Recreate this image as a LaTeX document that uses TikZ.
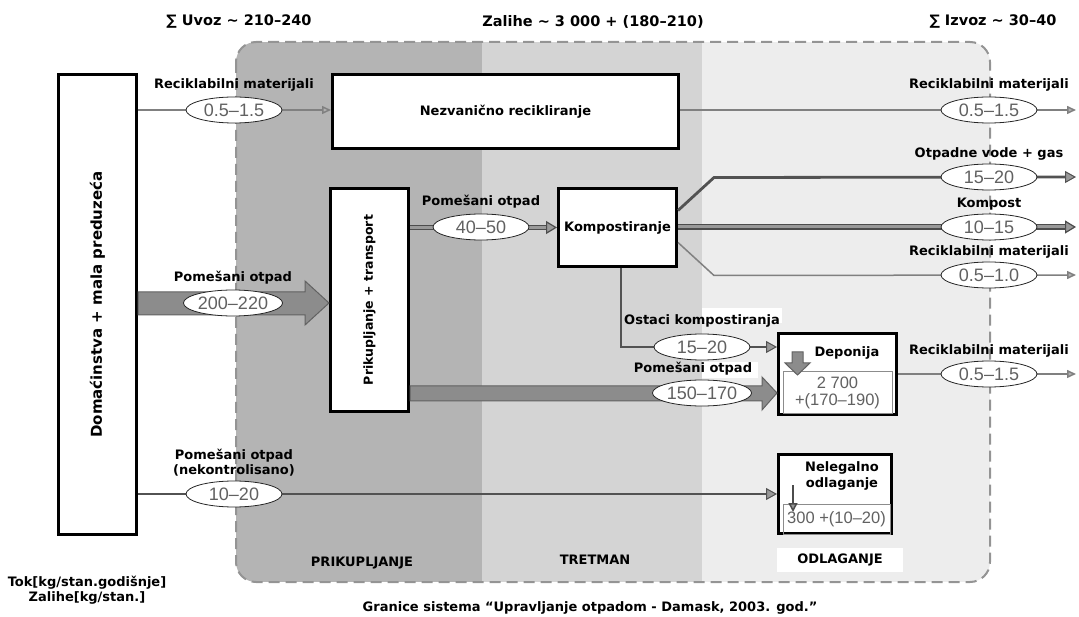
\documentclass[tikz,border=0pt]{standalone}
\usepackage{fontspec}
\setmainfont{DejaVu Sans}
\newfontfamily\numfont{Liberation Sans}
\usetikzlibrary{shapes.geometric}
\usetikzlibrary{arrows.meta}
\usetikzlibrary{positioning}

\definecolor{prikup}{HTML}{B4B4B4}
\definecolor{tretm}{HTML}{D4D4D4}
\definecolor{odlag}{HTML}{EDEDED}

\tikzset{
  proc/.style={draw, line width=3pt, fill=white, inner sep=0pt},
  lbl/.style={font=\bfseries\fontsize{13}{15.5}\selectfont, inner sep=1pt, align=center},
  val/.style={ellipse, draw=black!85, line width=0.8pt, fill=white, minimum width=96pt,
    minimum height=26pt, inner sep=0pt, text=black!62, font=\numfont\fontsize{18}{18}\selectfont},
  stock/.style={draw=black!45, line width=1pt, inner sep=0pt, align=center,
    text=black!62, font=\numfont\fontsize{16.5}{17}\selectfont},
  recflow/.style={draw=black!50, line width=1.5pt, -{Triangle[length=9pt, width=8pt, fill=black!30]}},
  wasteflow/.style={draw=black!68, line width=2.8pt, -{Triangle[length=11pt, width=12pt, line width=1pt, fill=black!40]}},
  dblflow/.style={draw=black!70, line width=1.2pt, double=black!40, double distance=3pt,
    -{Triangle[length=11pt, width=13pt, fill=black!40]}},
  bigflow/.style={fill=black!45, draw=black!62, line width=1pt, line join=miter},
}

\begin{document}
\begin{tikzpicture}[x=1pt, y=-1pt]
  \useasboundingbox (0,0) rectangle (1079,617);

  % zones of the system
  \begin{scope}
    \clip[rounded corners=20pt] (236,42) rectangle (990,582);
    \fill[prikup] (236,42) rectangle (482,582);
    \fill[tretm]  (482,42) rectangle (702,582);
    \fill[odlag]  (702,42) rectangle (990,582);
  \end{scope}
  \fill[white] (702,308) rectangle (782,323);
  \fill[white] (702,362) rectangle (758,378);
  \draw[black!42, line width=2pt, dash pattern=on 11pt off 6pt, rounded corners=20pt]
    (236,42) rectangle (990,582);

  \node[lbl] (uvoz)  at (239,22) {\fontsize{14.5}{16}\selectfont ∑ Uvoz \textasciitilde{} 210–240};
  \node[lbl] (zal)   at (593,22) {\fontsize{14.5}{16}\selectfont Zalihe \textasciitilde{} 3 000 + (180–210)};
  \node[lbl] (izvoz) at (993,22) {\fontsize{14.5}{16}\selectfont ∑ Izvoz \textasciitilde{} 30–40};

  % processes
  \node[proc, minimum width=78pt, minimum height=460pt]  (dom) at (97.5,304.5) {};
  \node[proc, minimum width=346pt, minimum height=74pt]  (nez) at (505.5,111.5) {};
  \node[proc, minimum width=78pt, minimum height=223pt]  (pri) at (369.5,300) {};
  \node[proc, minimum width=118pt, minimum height=78pt]  (kom) at (617.5,227.5) {};
  \node[proc, minimum width=118pt, minimum height=81pt]  (dep) at (837.5,374) {};
  \node[proc, minimum width=113pt, minimum height=79pt]  (nel) at (835,494) {};

  \node[lbl, rotate=90, font=\bfseries\fontsize{15}{18}\selectfont] at (dom.center) {Domaćinstva + mala preduzeća};
  \node[lbl] at (nez.center) {Nezvanično recikliranje};
  \node[lbl, rotate=90, font=\bfseries\fontsize{12.5}{15}\selectfont] at (pri.center) {Prikupljanje + transport};
  \node[lbl] at (kom.center) {Kompostiranje};

  \node[stock, minimum width=109pt, minimum height=42pt] (depst) at (837.5,392.5) {2 700\\+(170–190)};
  \node[lbl] (deptxt) at (847,353) {Deponija};
  \draw[bigflow] (792,352) -- (803,352) -- (803,363) -- (810,363) -- (797.5,375)
    -- (785,363) -- (792,363) -- cycle;

  \node[stock, minimum width=107pt, minimum height=30pt] (nelst) at (836.5,519) {300 +(10–20)};
  \node[lbl] (neltxt) at (842,476) {Nelegalno\\odlaganje};
  \draw[draw=black!70, line width=1.5pt, -{Triangle[length=9pt, width=9pt, fill=black!40]}] (793,485) -- (793,512);

  % flows
  \coordinate (r1) at (1076,110);
  \coordinate (r2) at (1076,177);
  \coordinate (r3) at (1076,227);
  \coordinate (r4) at (1076,275);
  \coordinate (r5) at (1076,374);

  \draw[recflow] (dom.east |- r1) -- (nez.west |- r1);
  \draw[recflow] (nez.east |- r1) -- (r1);
  \draw[wasteflow] ([yshift=17pt]kom.east) -- ++(36,-33) -- (r2);
  \draw[dblflow] (kom.east |- r3) -- (r3);
  \draw[recflow] ([yshift=-15pt]kom.east) -- ++(36,33) -- (r4);
  \draw[dblflow] (pri.east |- kom.west) -- (kom.west);
  \draw[wasteflow] (kom.south -| 621,0) |- ([yshift=27pt]dep.west);
  \draw[recflow] (dep.east) -- (r5);
  \draw[wasteflow] (dom.east |- nel.west) -- (nel.west);

  \draw[bigflow] (dom.east |- 0,292) -- (305,292) -- (305,281) -- (pri.west |- 0,303)
    -- (305,325) -- (305,315) -- (dom.east |- 0,315) -- cycle;
  \draw[bigflow] (pri.east |- 0,386) -- (762,386) -- (762,377) -- ([yshift=-19pt]dep.west)
    -- (762,410) -- (762,401) -- (pri.east |- 0,401) -- cycle;

  % values and labels
  \node[val] (v1) at (234,110) {0.5–1.5};
  \node[lbl, above=4pt of v1] {Reciklabilni materijali};
  \node[val] (v2) at (989,110) {0.5–1.5};
  \node[lbl, above=4pt of v2] {Reciklabilni materijali};
  \node[val] (v3) at (989,177) {15–20};
  \node[lbl, above=2pt of v3] {Otpadne vode + gas};
  \node[val] (v4) at (989,227) {10–15};
  \node[lbl, above=2pt of v4] {Kompost};
  \node[val] (v5) at (989,275) {0.5–1.0};
  \node[lbl, above=2pt of v5] {Reciklabilni materijali};
  \node[val] (v6) at (481,227) {40–50};
  \node[lbl, above=4pt of v6] {Pomešani otpad};
  \node[val] (v7) at (233,303) {200–220};
  \node[lbl, above=4pt of v7] {Pomešani otpad};
  \node[val] (v8) at (702,347) {15–20};
  \node[lbl, above=5pt of v8] {Ostaci kompostiranja};
  \node[val] (v9) at (702,393) {150–170};
  \node[lbl] at (693,369) {Pomešani otpad};
  \node[val] (v10) at (989,374) {0.5–1.5};
  \node[lbl, above=2pt of v10] {Reciklabilni materijali};
  \node[val] (v11) at (234,494) {10–20};
  \node[lbl, above=3pt of v11] {Pomešani otpad\\(nekontrolisano)};

  % zone names and notes
  \node[lbl] (zp) at (362,563) {PRIKUPLJANJE};
  \node[lbl] (zt) at (595,560) {TRETMAN};
  \node[lbl, fill=white, minimum width=126pt, minimum height=24pt] (zo) at (840,560) {ODLAGANJE};
  \node[lbl] (jed) at (87,590) {Tok[kg/stan.godišnje]\\Zalihe[kg/stan.]};
  \node[lbl] (gran) at (590,608) {Granice sistema “Upravljanje otpadom - Damask, 2003. god.”};
\end{tikzpicture}
\end{document}
